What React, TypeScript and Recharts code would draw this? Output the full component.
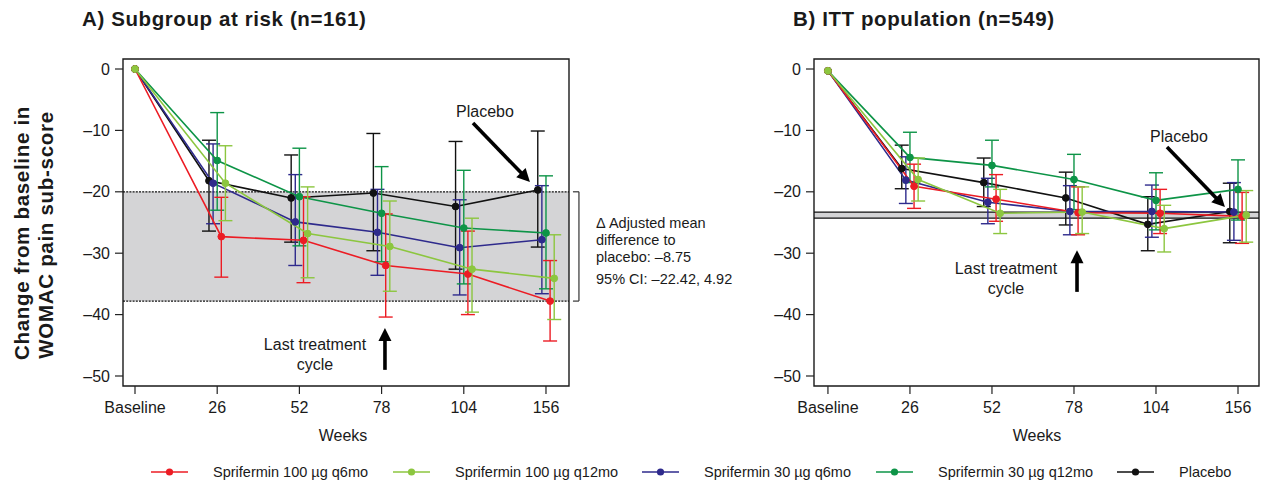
import React from 'react';
import { LineChart, Line, XAxis, YAxis, ErrorBar, ReferenceArea, ReferenceLine } from 'recharts';

const FONT = '"Liberation Sans", Arial, Helvetica, sans-serif';

const weeks = ['Baseline', '26', '52', '78', '104', '156'];
const yTicks = [0, -10, -20, -30, -40, -50];

// Panel A: Subgroup at risk (n=161)
const aRed = [0, -27.3, -27.9, -32.0, -33.4, -37.8];
const aRedLo = [0, -33.9, -34.8, -40.4, -40.0, -44.3];
const aRedHi = [0, -20.9, -20.8, -23.6, -26.4, -31.2];
const aLgreen = [0, -18.6, -26.8, -28.9, -32.6, -34.1];
const aLgreenLo = [0, -24.7, -34.0, -36.2, -39.6, -40.8];
const aLgreenHi = [0, -12.5, -19.2, -21.5, -24.3, -27.0];
const aBlue = [0, -18.6, -24.9, -26.6, -29.1, -27.8];
const aBlueLo = [0, -25.2, -32.0, -33.6, -36.8, -36.6];
const aBlueHi = [0, -12.2, -17.2, -19.6, -21.3, -19.0];
const aGreen = [0, -14.9, -20.8, -23.5, -25.9, -26.7];
const aGreenLo = [0, -23.0, -28.8, -31.4, -35.0, -35.8];
const aGreenHi = [0, -7.1, -12.9, -15.9, -16.5, -17.4];
const aBlack = [0, -18.2, -21.0, -20.2, -22.4, -19.7];
const aBlackLo = [0, -26.4, -28.2, -29.6, -32.6, -29.0];
const aBlackHi = [0, -11.6, -14.0, -10.5, -11.8, -10.1];
const aBand = [-37.8, -20];

// Panel B: ITT population (n=549)
const bRed = [-0.3, -19.1, -21.2, -23.4, -23.5, -24.0];
const bRedLo = [-0.3, -22.7, -24.8, -27.0, -26.8, -28.4];
const bRedHi = [-0.3, -15.5, -17.2, -19.2, -19.6, -20.1];
const bLgreen = [-0.3, -18.0, -23.5, -23.3, -26.0, -23.8];
const bLgreenLo = [-0.3, -21.5, -26.8, -26.8, -29.8, -28.2];
const bLgreenHi = [-0.3, -14.5, -19.6, -19.2, -22.2, -19.8];
const bBlue = [-0.3, -18.1, -21.7, -23.2, -23.2, -23.3];
const bBlueLo = [-0.3, -21.9, -25.2, -27.0, -27.4, -27.9];
const bBlueHi = [-0.3, -14.3, -17.8, -19.0, -18.9, -18.5];
const bGreen = [-0.3, -14.4, -15.7, -18.0, -21.4, -19.6];
const bGreenLo = [-0.3, -18.5, -19.2, -22.9, -26.2, -24.6];
const bGreenHi = [-0.3, -10.3, -11.6, -13.9, -16.9, -14.8];
const bBlack = [-0.3, -16.2, -18.5, -21.0, -25.3, -23.2];
const bBlackLo = [-0.3, -19.5, -22.4, -25.4, -29.6, -28.3];
const bBlackHi = [-0.3, -12.4, -14.5, -16.8, -20.8, -18.6];
const bBand = [-24.3, -23.3];

const seriesNames = [
  'Sprifermin 100 µg q6mo',
  'Sprifermin 100 µg q12mo',
  'Sprifermin 30 µg q6mo',
  'Sprifermin 30 µg q12mo',
  'Placebo',
];
const colors = ['#ec1c24', '#8cc63f', '#2e2a8c', '#0d9447', '#111111'];
const dodge = [0.05, 0.1, -0.05, 0, -0.1];

const build = (m: number[], lo: number[], hi: number[], off: number) =>
  m.map((v, i) => ({
    x: i + (i === 0 ? 0 : off),
    y: v,
    err: i === 0 ? null : [v - lo[i], hi[i] - v],
  }));

const seriesA = [
  build(aRed, aRedLo, aRedHi, dodge[0]),
  build(aLgreen, aLgreenLo, aLgreenHi, dodge[1]),
  build(aBlue, aBlueLo, aBlueHi, dodge[2]),
  build(aGreen, aGreenLo, aGreenHi, dodge[3]),
  build(aBlack, aBlackLo, aBlackHi, dodge[4]),
];
const seriesB = [
  build(bRed, bRedLo, bRedHi, dodge[0]),
  build(bLgreen, bLgreenLo, bLgreenHi, dodge[1]),
  build(bBlue, bBlueLo, bBlueHi, dodge[2]),
  build(bGreen, bGreenLo, bGreenHi, dodge[3]),
  build(bBlack, bBlackLo, bBlackHi, dodge[4]),
];
// draw order: black, blue, green, red, light green (top)
const drawOrder = [4, 2, 3, 0, 1];

const Y_DOMAIN: [number, number] = [-51.63, 1.63];

const arrowShape = (p: any) => {
  const { x1, y1, x2, y2 } = p;
  const dx = x2 - x1;
  const dy = y2 - y1;
  const len = Math.hypot(dx, dy) || 1;
  const ux = dx / len;
  const uy = dy / len;
  const hl = 13;
  const hw = 6.5;
  const bx = x2 - ux * hl;
  const by = y2 - uy * hl;
  const px = -uy;
  const py = ux;
  return (
    <g>
      <line x1={x1} y1={y1} x2={bx + ux * 1} y2={by + uy * 1} stroke="#000" strokeWidth={3.6} />
      <polygon
        points={`${x2},${y2} ${bx + px * hw},${by + py * hw} ${bx - px * hw},${by - py * hw}`}
        fill="#000"
      />
    </g>
  );
};

const fmtY = (v: number) => (v < 0 ? '\u2013' + Math.abs(v) : String(v));
const fmtX = (v: number) => weeks[Math.round(v)] ?? '';

type PanelProps = {
  series: { x: number; y: number; err: number[] | null }[][];
  xDomain: [number, number];
  band: number[];
  bandDotted: boolean;
  width: number;
  margin: { top: number; right: number; bottom: number; left: number };
  placeboArrow: { x: number; y: number }[];
  cycleArrow: { x: number; y: number }[];
  bracket?: boolean;
};

function Panel(props: PanelProps) {
  const { series, xDomain, band, bandDotted, width, margin, placeboArrow, cycleArrow, bracket } = props;
  const tickStyle = { fill: '#1a1a1a', fontSize: 16, fontFamily: FONT };
  return (
    <LineChart width={width} height={420} margin={margin}>
      <XAxis
        type="number"
        dataKey="x"
        domain={xDomain}
        allowDataOverflow
        ticks={[0, 1, 2, 3, 4, 5]}
        tickFormatter={fmtX}
        axisLine={false}
        tickLine={{ stroke: '#222', strokeWidth: 1.2 }}
        tickSize={8}
        tickMargin={8}
        tick={tickStyle}
        height={30}
        interval={0}
      />
      <YAxis
        type="number"
        domain={Y_DOMAIN}
        allowDataOverflow
        ticks={yTicks}
        tickFormatter={fmtY}
        axisLine={false}
        tickLine={{ stroke: '#222', strokeWidth: 1.2 }}
        tickSize={8}
        tickMargin={5}
        tick={tickStyle}
        width={60}
        interval={0}
      />
      <ReferenceArea
        x1={xDomain[0]}
        x2={xDomain[1]}
        y1={band[0]}
        y2={band[1]}
        fill="#d4d4d6"
        fillOpacity={1}
        stroke="none"
        ifOverflow="visible"
      />
      <ReferenceLine
        y={band[0]}
        stroke="#111"
        strokeWidth={bandDotted ? 1.2 : 1.3}
        strokeDasharray={bandDotted ? '2 1.2' : undefined}
      />
      <ReferenceLine
        y={band[1]}
        stroke="#111"
        strokeWidth={bandDotted ? 1.2 : 1.3}
        strokeDasharray={bandDotted ? '2 1.2' : undefined}
      />
      {bracket && (
        <ReferenceLine
          segment={[
            { x: 5.328, y: band[1] },
            { x: 5.401, y: band[1] },
          ]}
          stroke="#333"
          strokeWidth={1.2}
          ifOverflow="visible"
        />
      )}
      {bracket && (
        <ReferenceLine
          segment={[
            { x: 5.401, y: band[1] },
            { x: 5.401, y: band[0] },
          ]}
          stroke="#333"
          strokeWidth={1.2}
          ifOverflow="visible"
        />
      )}
      {bracket && (
        <ReferenceLine
          segment={[
            { x: 5.328, y: band[0] },
            { x: 5.401, y: band[0] },
          ]}
          stroke="#333"
          strokeWidth={1.2}
          ifOverflow="visible"
        />
      )}
      {drawOrder.map((si) => (
        <Line
          key={si}
          data={series[si]}
          dataKey="y"
          stroke={colors[si]}
          strokeWidth={1.6}
          dot={{ r: 3.4, fill: colors[si], stroke: colors[si], strokeWidth: 1 }}
          activeDot={false}
          isAnimationActive={false}
          legendType="none"
        >
          <ErrorBar dataKey="err" direction="y" width={7} stroke={colors[si]} strokeWidth={1.4} isAnimationActive={false} />
        </Line>
      ))}
      <ReferenceLine segment={placeboArrow} shape={arrowShape} ifOverflow="visible" />
      <ReferenceLine segment={cycleArrow} shape={arrowShape} ifOverflow="visible" />
      <ReferenceArea
        x1={xDomain[0]}
        x2={xDomain[1]}
        y1={Y_DOMAIN[0]}
        y2={Y_DOMAIN[1]}
        fill="none"
        stroke="#1a1a1a"
        strokeWidth={1.4}
        ifOverflow="visible"
      />
    </LineChart>
  );
}

const textBase: React.CSSProperties = {
  position: 'absolute',
  fontFamily: FONT,
  color: '#1a1a1a',
  whiteSpace: 'nowrap',
  lineHeight: 1,
};

function LegendItem({ idx, left }: { idx: number; left: number }) {
  return (
    <div style={{ position: 'absolute', left, top: 462, height: 20, display: 'flex', alignItems: 'center' }}>
      <svg width={37} height={20} style={{ display: 'block' }}>
        <line x1={0} y1={10} x2={37} y2={10} stroke={colors[idx]} strokeWidth={1.6} />
        <circle cx={18.5} cy={10} r={3.6} fill={colors[idx]} />
      </svg>
      <span style={{ marginLeft: 25, fontFamily: FONT, fontSize: 14.5, color: '#1a1a1a', whiteSpace: 'nowrap' }}>
        {seriesNames[idx]}
      </span>
    </div>
  );
}

export default function App() {
  return (
    <div style={{ position: 'absolute', left: 0, top: 0, width: 1261, height: 481, overflow: 'hidden', background: '#fff' }}>
      <div style={{ position: 'absolute', left: 0, top: 0 }}>
        <Panel
          series={seriesA}
          xDomain={[-0.146, 5.28]}
          band={aBand}
          bandDotted
          width={600}
          margin={{ top: 59, right: 31, bottom: 4, left: 63 }}
          placeboArrow={[
            { x: 4.112, y: -8.79 },
            { x: 4.805, y: -18.4 },
          ]}
          cycleArrow={[
            { x: 3.041, y: -49.0 },
            { x: 3.041, y: -42.2 },
          ]}
          bracket
        />
      </div>
      <div style={{ position: 'absolute', left: 690, top: 0 }}>
        <Panel
          series={seriesB}
          xDomain={[-0.17, 5.256]}
          band={bBand}
          bandDotted={false}
          width={571}
          margin={{ top: 59, right: 2, bottom: 4, left: 64 }}
          placeboArrow={[
            { x: 4.134, y: -12.7 },
            { x: 4.841, y: -22.48 },
          ]}
          cycleArrow={[
            { x: 3.037, y: -36.3 },
            { x: 3.037, y: -29.5 },
          ]}
        />
      </div>

      {/* Titles */}
      <div style={{ ...textBase, left: 82, top: 9, fontSize: 20.5, fontWeight: 'bold', letterSpacing: 0.6 }}>
        A) Subgroup at risk (n=161)
      </div>
      <div style={{ ...textBase, left: 793, top: 9, fontSize: 20.5, fontWeight: 'bold', letterSpacing: 0.6 }}>
        B) ITT population (n=549)
      </div>

      {/* Y axis title */}
      <svg width={70} height={481} style={{ position: 'absolute', left: 0, top: 0 }}>
        <text
          x={0}
          y={0}
          transform="translate(21,233) rotate(-90)"
          textAnchor="middle"
          dominantBaseline="central"
          fontFamily={FONT}
          fontWeight="bold"
          fontSize={20.5}
          letterSpacing={0.7}
          fill="#1a1a1a"
        >
          Change from baseline in
        </text>
        <text
          x={0}
          y={0}
          transform="translate(45,235) rotate(-90)"
          textAnchor="middle"
          dominantBaseline="central"
          fontFamily={FONT}
          fontWeight="bold"
          fontSize={20.5}
          letterSpacing={0.7}
          fill="#1a1a1a"
        >
          WOMAC pain sub-score
        </text>
      </svg>

      {/* X axis titles */}
      <div style={{ ...textBase, left: 243, width: 200, textAlign: 'center', top: 428, fontSize: 16 }}>Weeks</div>
      <div style={{ ...textBase, left: 937, width: 200, textAlign: 'center', top: 428, fontSize: 16 }}>Weeks</div>

      {/* Panel A annotations */}
      <div style={{ ...textBase, left: 456, top: 104, fontSize: 16 }}>Placebo</div>
      <div style={{ ...textBase, left: 215, width: 200, textAlign: 'center', top: 335, fontSize: 16, lineHeight: '20px' }}>
        Last treatment
        <br />
        cycle
      </div>
      <div style={{ ...textBase, left: 596, top: 215, fontSize: 14.5, lineHeight: '17px' }}>
        Δ Adjusted mean
        <br />
        difference to
        <br />
        placebo: –8.75
      </div>
      <div style={{ ...textBase, left: 596, top: 272, fontSize: 14.5 }}>95% CI: –22.42, 4.92</div>

      {/* Panel B annotations */}
      <div style={{ ...textBase, left: 1150, top: 129, fontSize: 16 }}>Placebo</div>
      <div style={{ ...textBase, left: 906, width: 200, textAlign: 'center', top: 259, fontSize: 16, lineHeight: '20px' }}>
        Last treatment
        <br />
        cycle
      </div>

      {/* Legend */}
      <LegendItem idx={0} left={151} />
      <LegendItem idx={1} left={393} />
      <LegendItem idx={2} left={642} />
      <LegendItem idx={3} left={876} />
      <LegendItem idx={4} left={1117} />
    </div>
  );
}
